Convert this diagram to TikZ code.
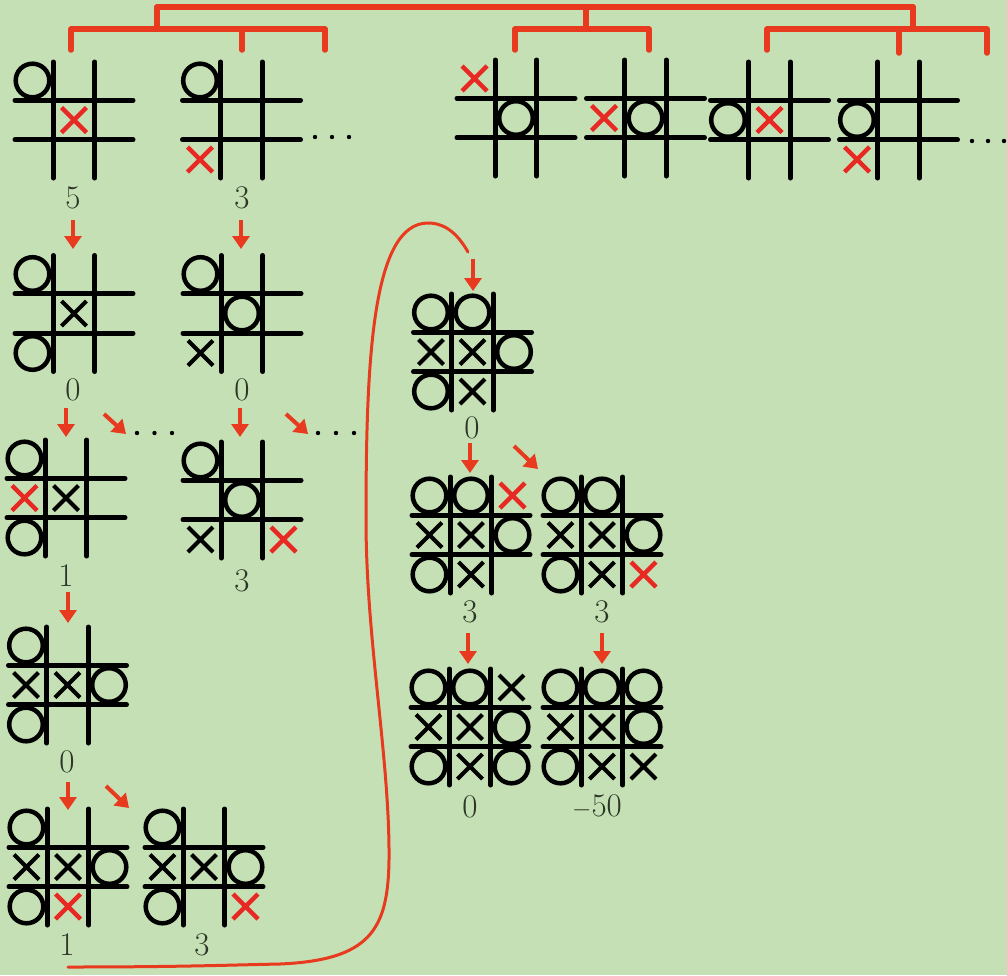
\documentclass[tikz,border=0pt]{standalone}
\usetikzlibrary{arrows.meta}
\definecolor{bg}{RGB}{197,224,180}
\definecolor{tred}{RGB}{232,58,30}
\definecolor{xred}{RGB}{232,40,34}
\definecolor{lblc}{RGB}{45,55,40}
\tikzset{
  gridline/.style={line width=5pt,line cap=round,black},
  omark/.style={line width=4.5pt,black},
  xmark/.style={line width=4pt,black},
  rxmark/.style={line width=4.5pt,xred},
  boardbox/.style={minimum width=118pt,minimum height=116pt,inner sep=0pt,draw=none},
  lbl/.style={font=\fontsize{33}{33}\selectfont,text=lblc,inner sep=0pt},
  arr/.style={draw=tred,line width=4pt,-{Triangle[length=13pt,width=17pt]}},
  bracket/.style={draw=tred,line width=5.5pt,line cap=round,line join=round},
  curve/.style={draw=tred,line width=3pt,line cap=round},
  dot/.style={fill=black},
}
% board grid: name, cx, cy
\newcommand\tttgrid[3]{%
  \node[boardbox] (#1) at (#2,#3) {};
  \draw[gridline] ({#2-59},{#3-19.75}) -- ({#2+59},{#3-19.75})
                  ({#2-59},{#3+19.75}) -- ({#2+59},{#3+19.75})
                  ({#2-20.75},{#3-58}) -- ({#2-20.75},{#3+58})
                  ({#2+20.75},{#3-58}) -- ({#2+20.75},{#3+58});
}
% O mark: cx, cy, col, row
\newcommand\mO[4]{\draw[omark] ({#1+(#3)*41.5},{#2+(#4)*39.5}) circle[radius=16.8];}
% X mark: style, cx, cy, col, row
\newcommand\mX[5]{\draw[#1]
  ({#2+(#4)*41.5-12.5},{#3+(#5)*39.5-12.5}) -- ({#2+(#4)*41.5+12.5},{#3+(#5)*39.5+12.5})
  ({#2+(#4)*41.5-12.5},{#3+(#5)*39.5+12.5}) -- ({#2+(#4)*41.5+12.5},{#3+(#5)*39.5-12.5});}
\newcommand\threedots[3]{\fill[dot] (#1,#3) circle[radius=2.2] (#2,#3) circle[radius=2.2] ({(#1+#2)/2},#3) circle[radius=2.2];}
\begin{document}
\begin{tikzpicture}[x=1pt,y=-1pt]
\fill[bg] (0,0) rectangle (1007,975);
\useasboundingbox (0,0) rectangle (1007,975);

% ---------- top brackets ----------
\coordinate (t0) at (157,7);  \coordinate (t1) at (913,7);
\coordinate (tm) at (586,7);
\coordinate (bl) at (157,29); \coordinate (bm) at (586,29); \coordinate (br) at (913,29);
\draw[bracket] (t0) -- (t1);
\draw[bracket] (t0) -- (bl);
\draw[bracket] (tm) -- (bm);
\draw[bracket] (t1) -- (br);
\draw[bracket] (71,50) -- (71,29) -- (325,29) -- (325,50);
\draw[bracket] (242,29) -- (242,50);
\draw[bracket] (515,50) -- (515,29) -- (649,29) -- (649,50);
\draw[bracket] (767,50) -- (767,29) -- (987,29) -- (987,53);
\draw[bracket] (899,29) -- (899,53);

% ---------- top row ----------
\tttgrid{b1a}{74}{120}
\mO{74}{120}{-1}{-1} \mX{rxmark}{74}{120}{0}{0}
\tttgrid{b1b}{241.5}{120}
\mO{241.5}{120}{-1}{-1} \mX{rxmark}{241.5}{120}{-1}{1}
\threedots{315}{349}{137}

\tttgrid{bA}{516}{118}
\mX{rxmark}{516}{118}{-1}{-1} \mO{516}{118}{0}{0}
\tttgrid{bB}{645.5}{118}
\mX{rxmark}{645.5}{118}{-1}{0} \mO{645.5}{118}{0}{0}
\tttgrid{bC}{769.5}{120}
\mO{769.5}{120}{-1}{0} \mX{rxmark}{769.5}{120}{0}{0}
\tttgrid{bD}{898.5}{120}
\mO{898.5}{120}{-1}{0} \mX{rxmark}{898.5}{120}{-1}{1}
\threedots{972}{1004}{141}

\node[lbl] (n1a) at (73,198) {5};
\node[lbl] (n1b) at (242,198) {3};

\coordinate (a1s) at (73,220);  \coordinate (a1e) at (73,249);
\coordinate (a2s) at (241,220); \coordinate (a2e) at (241,249);
\draw[arr] (a1s) -- (a1e);
\draw[arr] (a2s) -- (a2e);

% ---------- row 2 ----------
\tttgrid{b2a}{74}{313.5}
\mO{74}{313.5}{-1}{-1} \mX{xmark}{74}{313.5}{0}{0} \mO{74}{313.5}{-1}{1}
\tttgrid{b2b}{242}{313.5}
\mO{242}{313.5}{-1}{-1} \mO{242}{313.5}{0}{0} \mX{xmark}{242}{313.5}{-1}{1}
\node[lbl] (n2a) at (73,390) {0};
\node[lbl] (n2b) at (242,390) {0};

\coordinate (a3s) at (66,408);  \coordinate (a3e) at (66,437);
\coordinate (a4s) at (104,414); \coordinate (a4e) at (126,434);
\coordinate (a5s) at (240,408); \coordinate (a5e) at (240,437);
\coordinate (a6s) at (286,414); \coordinate (a6e) at (308,434);
\draw[arr] (a3s) -- (a3e);
\draw[arr] (a4s) -- (a4e);
\draw[arr] (a5s) -- (a5e);
\draw[arr] (a6s) -- (a6e);
\threedots{137}{172}{433}
\threedots{318}{354}{433}

% ---------- row 3 ----------
\tttgrid{b3a}{66}{498}
\mO{66}{498}{-1}{-1} \mX{rxmark}{66}{498}{-1}{0} \mX{xmark}{66}{498}{0}{0} \mO{66}{498}{-1}{1}
\tttgrid{b3b}{242}{500}
\mO{242}{500}{-1}{-1} \mO{242}{500}{0}{0} \mX{xmark}{242}{500}{-1}{1} \mX{rxmark}{242}{500}{1}{1}
\node[lbl] (n3a) at (66,576) {1};
\node[lbl] (n3b) at (242,581) {3};

\coordinate (a7s) at (68,592); \coordinate (a7e) at (68,623);
\draw[arr] (a7s) -- (a7e);

% ---------- row 4 ----------
\tttgrid{b4}{67.5}{685}
\mO{67.5}{685}{-1}{-1} \mX{xmark}{67.5}{685}{-1}{0} \mX{xmark}{67.5}{685}{0}{0}
\mO{67.5}{685}{1}{0} \mO{67.5}{685}{-1}{1}
\node[lbl] (n4) at (67,762) {0};

\coordinate (a8s) at (68,782);  \coordinate (a8e) at (68,810);
\coordinate (a9s) at (106,786); \coordinate (a9e) at (129,808);
\draw[arr] (a8s) -- (a8e);
\draw[arr] (a9s) -- (a9e);

% ---------- row 5 ----------
\tttgrid{b5a}{68}{867}
\mO{68}{867}{-1}{-1} \mX{xmark}{68}{867}{-1}{0} \mX{xmark}{68}{867}{0}{0}
\mO{68}{867}{1}{0} \mO{68}{867}{-1}{1} \mX{rxmark}{68}{867}{0}{1}
\tttgrid{b5b}{204}{867}
\mO{204}{867}{-1}{-1} \mX{xmark}{204}{867}{-1}{0} \mX{xmark}{204}{867}{0}{0}
\mO{204}{867}{1}{0} \mO{204}{867}{-1}{1} \mX{rxmark}{204}{867}{1}{1}
\node[lbl] (n5a) at (67,945) {1};
\node[lbl] (n5b) at (202,945) {3};

% ---------- long curve ----------
\coordinate (c0) at (68,967);
\coordinate (c1) at (280,964);
\coordinate (c2) at (389,860);
\coordinate (c3) at (366,520);
\coordinate (c4) at (428,223);
\coordinate (c5) at (468,252);
\draw[curve] (c0) .. controls (180,967) and (230,965) .. (c1)
  .. controls (370,960) and (388,930) .. (c2)
  .. controls (390,760) and (366,640) .. (c3)
  .. controls (366,360) and (372,223) .. (c4)
  .. controls (448,223) and (460,238) .. (c5);

\coordinate (aPs) at (473,259); \coordinate (aPe) at (473,291);
\draw[arr] (aPs) -- (aPe);

% ---------- centre column ----------
\tttgrid{bP}{472.5}{352}
\mO{472.5}{352}{-1}{-1} \mO{472.5}{352}{0}{-1}
\mX{xmark}{472.5}{352}{-1}{0} \mX{xmark}{472.5}{352}{0}{0} \mO{472.5}{352}{1}{0}
\mO{472.5}{352}{-1}{1} \mX{xmark}{472.5}{352}{0}{1}
\node[lbl] (nP) at (472,428) {0};

\coordinate (aQ1s) at (470,443); \coordinate (aQ1e) at (470,473);
\coordinate (aQ2s) at (514,446); \coordinate (aQ2e) at (538,469);
\draw[arr] (aQ1s) -- (aQ1e);
\draw[arr] (aQ2s) -- (aQ2e);

\tttgrid{bQ1}{471}{535}
\mO{471}{535}{-1}{-1} \mO{471}{535}{0}{-1} \mX{rxmark}{471}{535}{1}{-1}
\mX{xmark}{471}{535}{-1}{0} \mX{xmark}{471}{535}{0}{0} \mO{471}{535}{1}{0}
\mO{471}{535}{-1}{1} \mX{xmark}{471}{535}{0}{1}
\tttgrid{bQ2}{602}{535}
\mO{602}{535}{-1}{-1} \mO{602}{535}{0}{-1}
\mX{xmark}{602}{535}{-1}{0} \mX{xmark}{602}{535}{0}{0} \mO{602}{535}{1}{0}
\mO{602}{535}{-1}{1} \mX{xmark}{602}{535}{0}{1} \mX{rxmark}{602}{535}{1}{1}
\node[lbl] (nQ1) at (470,612) {3};
\node[lbl] (nQ2) at (602,612) {3};

\coordinate (aR1s) at (468,633); \coordinate (aR1e) at (468,664);
\coordinate (aR2s) at (602,633); \coordinate (aR2e) at (602,664);
\draw[arr] (aR1s) -- (aR1e);
\draw[arr] (aR2s) -- (aR2e);

\tttgrid{bR1}{470}{727}
\mO{470}{727}{-1}{-1} \mO{470}{727}{0}{-1} \mX{xmark}{470}{727}{1}{-1}
\mX{xmark}{470}{727}{-1}{0} \mX{xmark}{470}{727}{0}{0} \mO{470}{727}{1}{0}
\mO{470}{727}{-1}{1} \mX{xmark}{470}{727}{0}{1} \mO{470}{727}{1}{1}
\tttgrid{bR2}{602}{727}
\mO{602}{727}{-1}{-1} \mO{602}{727}{0}{-1} \mO{602}{727}{1}{-1}
\mX{xmark}{602}{727}{-1}{0} \mX{xmark}{602}{727}{0}{0} \mO{602}{727}{1}{0}
\mO{602}{727}{-1}{1} \mX{xmark}{602}{727}{0}{1} \mX{xmark}{602}{727}{1}{1}
\node[lbl] (nR1) at (470,807) {0};
\node[lbl] (nR2) at (597,807) {$-$50};
\end{tikzpicture}
\end{document}
